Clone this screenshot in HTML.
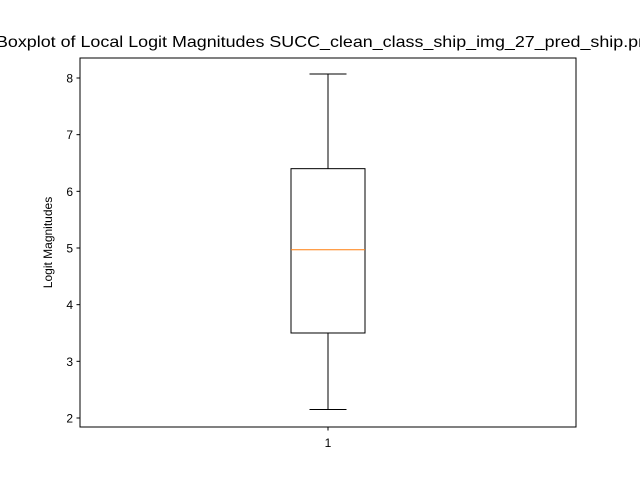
<!DOCTYPE html>
<html><head><meta charset="utf-8"><style>
body{margin:0;background:#fff;}
svg{display:block;font-family:"Liberation Sans","DejaVu Sans",sans-serif;}
</style></head><body>
<svg id="chart" width="640" height="480" xmlns="http://www.w3.org/2000/svg">
<rect width="640" height="480" fill="#fff"/>
<text x="-4" y="47" textLength="662" lengthAdjust="spacingAndGlyphs" font-size="16">Boxplot of Local Logit Magnitudes SUCC_clean_class_ship_img_27_pred_ship.png</text>
<text transform="translate(52,242.5) rotate(-90)" text-anchor="middle" font-size="12">Logit Magnitudes</text>
<g id="marks"></g>
<rect x="80" y="58" width="496" height="369" fill="none" stroke="#000" stroke-width="1"/>
</svg>
<script>
const categories = ["1"];
const whiskerLow = [2.15];
const q1 = [3.5];
const median = [4.97];
const q3 = [6.4];
const whiskerHigh = [8.07];
const yTicks = [2,3,4,5,6,7,8];

const yMin = 1.841, yMax = 8.353, plotTop = 58, plotBottom = 427, plotLeft = 80, plotRight = 576;
const yScale = v => plotBottom - (v - yMin) / (yMax - yMin) * (plotBottom - plotTop);
const xScale = i => plotLeft + (i + 0.5) / categories.length * (plotRight - plotLeft);
const ns = "http://www.w3.org/2000/svg";
const g = document.getElementById('marks');
function el(tag, attrs, name){
  const e = document.createElementNS(ns, tag);
  for (const k in attrs) e.setAttribute(k, attrs[k]);
  
  
  g.appendChild(e); return e;
}
yTicks.forEach(t => {
  el('line', {x1:plotLeft-3.5, x2:plotLeft, y1:yScale(t), y2:yScale(t), stroke:'#000'}, 'y-tick');
  const tx = el('text', {x:plotLeft-7, y:yScale(t)+4.5, 'text-anchor':'end', 'font-size':12}, 'y-tick-label');
  tx.textContent = t;
});
categories.forEach((c, i) => {
  const cx = xScale(i);
  const hw = 37, cw = 18.5;
  el('line', {x1:cx, x2:cx, y1:plotBottom, y2:plotBottom+3.5, stroke:'#000'}, 'x-tick');
  const tx = el('text', {x:cx, y:plotBottom+20, 'text-anchor':'middle', 'font-size':12}, 'x-tick-label');
  tx.textContent = c;
  el('line', {x1:cx, x2:cx, y1:yScale(whiskerHigh[i]), y2:yScale(q3[i]), stroke:'#000'}, 'upper-whisker');
  el('line', {x1:cx, x2:cx, y1:yScale(q1[i]), y2:yScale(whiskerLow[i]), stroke:'#000'}, 'lower-whisker');
  el('line', {x1:cx-cw, x2:cx+cw, y1:yScale(whiskerHigh[i]), y2:yScale(whiskerHigh[i]), stroke:'#000'}, 'upper-cap');
  el('line', {x1:cx-cw, x2:cx+cw, y1:yScale(whiskerLow[i]), y2:yScale(whiskerLow[i]), stroke:'#000'}, 'lower-cap');
  el('rect', {x:cx-hw, y:yScale(q3[i]), width:2*hw, height:yScale(q1[i])-yScale(q3[i]), fill:'none', stroke:'#000'}, 'box');
  el('line', {x1:cx-hw, x2:cx+hw, y1:yScale(median[i]), y2:yScale(median[i]), stroke:'#ff7f0e'}, 'median-line');
});
</script>
</body></html>
